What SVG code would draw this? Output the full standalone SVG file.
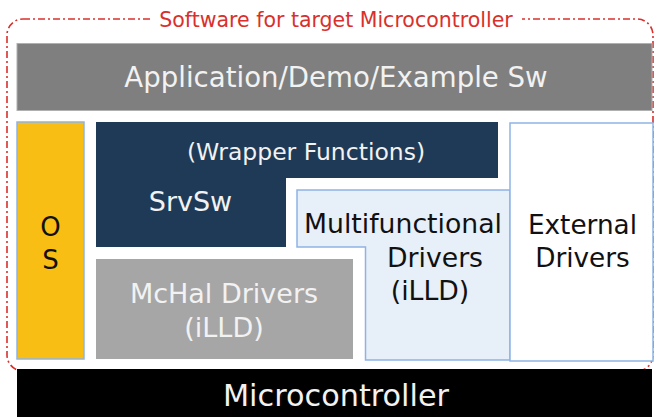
<svg xmlns="http://www.w3.org/2000/svg" width="657" height="417" viewBox="0 0 657 417">
<style>
text{font-family:"DejaVu Sans","Liberation Sans",sans-serif}
.light{fill:#F2F2F2}
.dark{fill:#111111}
.blue{stroke:#8EB4E3;stroke-width:1.5}
</style>
<rect x="0" y="0" width="657" height="417" fill="#FFFFFF"/>
<g id="boundary">
<rect x="7" y="19" width="646" height="352" rx="16" fill="none" stroke="#D9302C" stroke-width="1.6" stroke-dasharray="7 3 2 3"/>
<rect x="150" y="8" width="372" height="24" fill="#FFFFFF"/>
<text x="336" y="27" font-size="20.5" fill="#D9302C" text-anchor="middle">Software for target Microcontroller</text>
</g>
<g id="app">
<rect x="17" y="43.5" width="635" height="67" fill="#7F7F7F" stroke="#B0B0B0" stroke-width="1"/>
<text class="light" x="336" y="87" font-size="27.6" text-anchor="middle">Application/Demo/Example Sw</text>
</g>
<g id="os">
<rect x="17" y="122" width="67" height="237" fill="#F9BE14" class="blue"/>
<text class="dark" x="50.5" y="236" font-size="26" text-anchor="middle">O</text>
<text class="dark" x="50.5" y="269" font-size="26" text-anchor="middle">S</text>
</g>
<g id="srvsw">
<path d="M96 122 H498 V178 H286 V247 H96 Z" fill="#1F3A56"/>
<text class="light" x="306" y="160" font-size="23.5" text-anchor="middle">(Wrapper Functions)</text>
<text class="light" x="190.5" y="211" font-size="27" text-anchor="middle">SrvSw</text>
</g>
<g id="mchal">
<rect x="96" y="259" width="257" height="100" fill="#A6A6A6"/>
<text class="light" x="224" y="303" font-size="27" text-anchor="middle">McHal Drivers</text>
<text class="light" x="224" y="337" font-size="27" text-anchor="middle">(iLLD)</text>
</g>
<g id="multi">
<path d="M297 190 H510 V360 H365.5 V247 H297 Z" fill="#E7EFF8" class="blue"/>
<text class="dark" x="403" y="233" font-size="26.7" text-anchor="middle">Multifunctional</text>
<text class="dark" x="435" y="266.5" font-size="26.7" text-anchor="middle">Drivers</text>
<text class="dark" x="430" y="300" font-size="26.7" text-anchor="middle">(iLLD)</text>
</g>
<g id="external">
<rect x="510" y="123" width="143" height="238" fill="#FFFFFF" class="blue"/>
<text class="dark" x="582.5" y="234" font-size="26.3" text-anchor="middle">External</text>
<text class="dark" x="582.5" y="267" font-size="26.3" text-anchor="middle">Drivers</text>
</g>
<g id="mcu">
<rect x="17" y="369" width="635" height="48" fill="#000000"/>
<text class="light" x="336" y="406" font-size="30.3" text-anchor="middle">Microcontroller</text>
</g>
<g id="connectors"/>
</svg>
